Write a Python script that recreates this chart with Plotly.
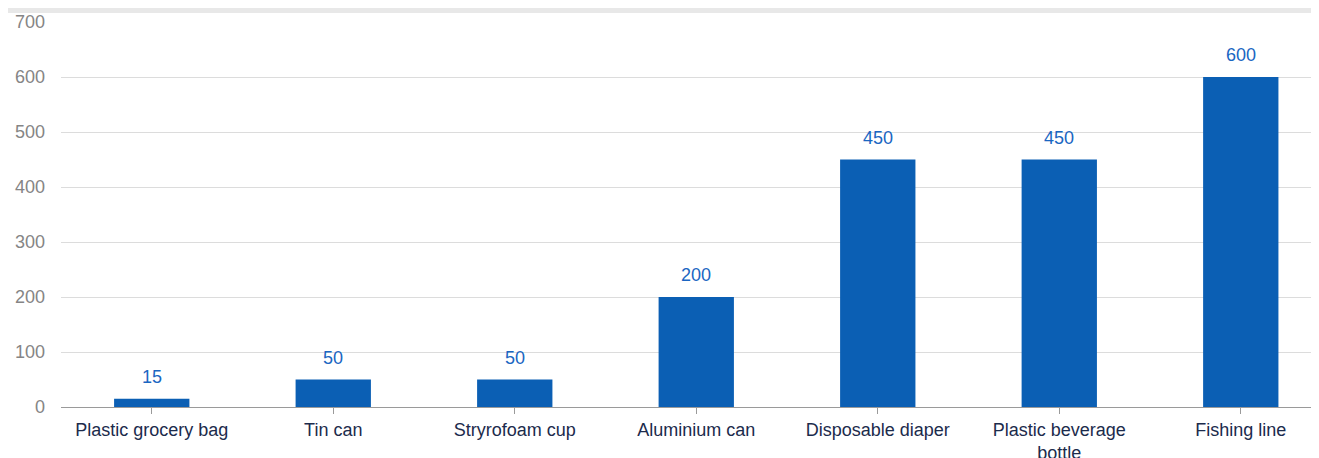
import plotly.graph_objects as go

categories = ["Plastic grocery bag", "Tin can", "Stryrofoam cup", "Aluminium can",
              "Disposable diaper", "Plastic beverage<br>bottle", "Fishing line"]
years = [15, 50, 50, 200, 450, 450, 600]
y_ticks = [0, 100, 200, 300, 400, 500, 600, 700]

FONT = "Liberation Sans, Arial, sans-serif"
BAR = "#0b5fb4"
LABEL = "#1a66c2"

# page has an 8px body margin; figure sized to fill the rest of the window
W, H = 1311, 450
ML, MT, MB = 53, 14, 51
PH = H - MT - MB

fig = go.Figure()
fig.add_trace(go.Bar(x=list(range(len(categories))), y=years, marker_color=BAR,
                     marker_line_width=0, width=0.415, hoverinfo="skip"))

for i, v in enumerate(years):
    fig.add_annotation(x=i, y=v, text=str(v), showarrow=False, yanchor="middle",
                       yshift=22, font=dict(family=FONT, size=18, color=LABEL))

fig.add_shape(type="rect", xref="paper", yref="paper", x0=-0.1, x1=1.1,
              y0=1 + (MT - 5) / PH, y1=1 + (MT + 5) / PH,
              fillcolor="#e8e8e8", line_width=0, layer="below")

fig.update_layout(
    width=W, height=H,
    margin=dict(l=ML, r=0, t=MT, b=MB, pad=0, autoexpand=False),
    paper_bgcolor="white", plot_bgcolor="white",
    showlegend=False,
    font=dict(family=FONT),
    xaxis=dict(
        tickmode="array", tickvals=list(range(len(categories))), ticktext=categories,
        range=[-0.5, 6.431], showgrid=False, showline=True, linecolor="#9a9a9a", linewidth=1,
        ticks="outside", ticklen=6, tickcolor="#9a9a9a", tickson="boundaries",
        tickfont=dict(family=FONT, size=18, color="#1c2b4c"), zeroline=False,
        automargin=False,
    ),
    yaxis=dict(
        range=[0, 700], tickvals=y_ticks, showgrid=True, gridcolor="#dcdcdc", gridwidth=1,
        zeroline=False, showline=False, automargin=False,
        tickfont=dict(family=FONT, size=18, color="#858585"), ticklabelstandoff=15,
    ),
)

fig.write_html("out.html")
